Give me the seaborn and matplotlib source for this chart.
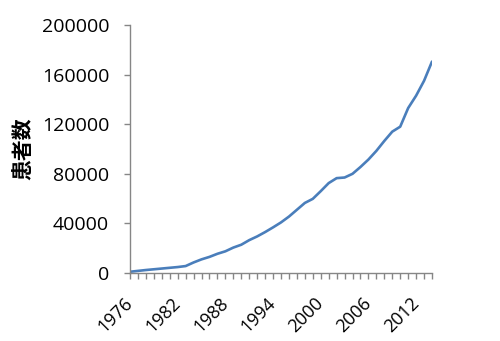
import numpy as np
import pandas as pd
import seaborn as sns
import matplotlib
matplotlib.use("Agg")
import matplotlib.pyplot as plt
from matplotlib.ticker import MultipleLocator

# data
years = list(range(1976, 2015))
patients = [1000, 1700, 2400, 3000, 3600, 4200, 4800, 5600, 8500, 11000,
            13000, 15500, 17500, 20500, 22800, 26500, 29500, 33000, 36800, 40800,
            45500, 51000, 56500, 59800, 66000, 72500, 76500, 77000, 80000, 85500,
            91500, 98500, 106500, 114000, 118000, 133000, 143000, 155000, 170500]
label_years = [1976, 1982, 1988, 1994, 2000, 2006, 2012]
y_ticks = [0, 40000, 80000, 120000, 160000, 200000]

df = pd.DataFrame({"year": years, "patients": patients})

sns.set_style("white")
plt.rcParams["font.family"] = ["Open Sans", "DejaVu Sans"]

fig = plt.figure(figsize=(5, 3.41), dpi=100)
ax = fig.add_axes([0.26, 0.1994, 0.604, 0.7273])

sns.lineplot(data=df, x="year", y="patients", ax=ax, color="#4A7EBB",
             linewidth=1.9, solid_joinstyle="round", solid_capstyle="round")

ax.set_xlim(years[0], years[-1])
ax.set_ylim(0, 200000)
ax.set_yticks(y_ticks)
ax.set_yticklabels([str(v) for v in y_ticks])
ax.set_xticks(label_years)
ax.set_xticklabels([str(v) for v in label_years], rotation=45, ha="right",
                   va="center", rotation_mode="anchor")
ax.xaxis.set_minor_locator(MultipleLocator(1))

for s in ["top", "right"]:
    ax.spines[s].set_visible(False)
for s in ["left", "bottom"]:
    ax.spines[s].set_color("#868686")
    ax.spines[s].set_linewidth(1.0)

ax.tick_params(axis="y", which="major", direction="out", length=4, width=1,
               color="#868686", labelcolor="black", labelsize=14, pad=11, left=True)
ax.tick_params(axis="x", which="major", direction="out", length=4, width=1,
               color="#868686", labelcolor="black", labelsize=13, pad=16, bottom=True)
ax.tick_params(axis="x", which="minor", direction="out", length=4, width=1,
               color="#868686", bottom=True)

ax.set_xlabel("")
ax.set_ylabel("患者数", fontsize=15, fontweight="bold", color="black",
              family=["Noto Sans CJK JP", "DejaVu Sans"], labelpad=6)
ax.grid(False)

fig.savefig("out.png", dpi=100)
